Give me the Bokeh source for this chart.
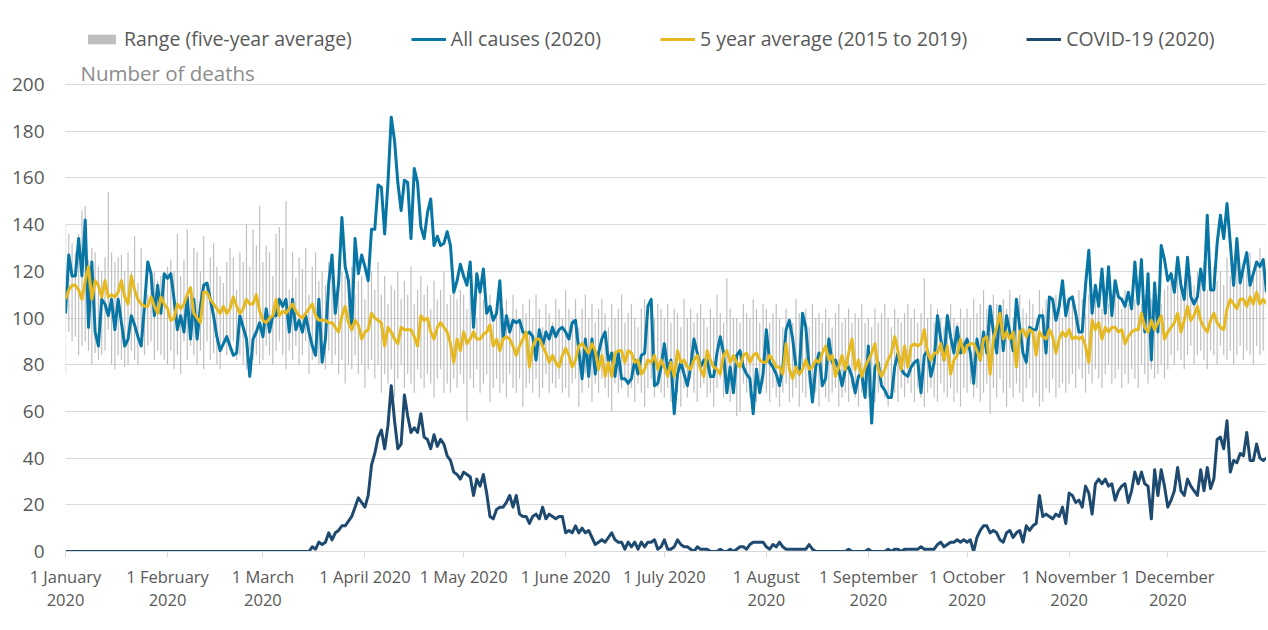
from bokeh.plotting import figure
from bokeh.models import ColumnDataSource, Range1d, FixedTicker, Legend, LegendItem, Label
from bokeh.embed import file_html
from bokeh.resources import INLINE

# ---------------- data (day 0 = 1 January 2020, day 365 = 31 December 2020) ----------------
all_causes_2020 = [
    102, 127, 118, 118, 134, 118, 142, 96, 124, 94, 88, 108, 106, 101, 108, 95, 108, 98, 88, 91,
    101, 97, 92, 88, 105, 124, 119, 101, 114, 102, 119, 117, 119, 108, 95,
    101, 94, 109, 91, 108, 91, 105, 114, 115, 108, 101, 92, 86, 89, 92, 88, 84, 85, 101, 96,
    91, 75, 91, 94, 98, 92, 104, 94, 101, 101, 108, 105, 108, 94, 108, 95,
    99, 94, 101, 94, 88, 84, 108, 81, 91, 115, 127, 102, 115, 143, 122, 116, 95, 134, 119, 127,
    122, 116, 138, 138, 157, 156, 136, 158, 186, 176, 158, 146, 159, 158, 134, 164, 158, 139, 134,
    145, 151, 131, 135, 131, 132, 137, 131, 111, 116, 123, 118, 114, 124, 96, 119, 111, 121, 102, 105,
    99, 102, 116, 91, 101, 94, 99, 98, 99, 94, 93, 94, 92, 82,
    95, 88, 94, 91, 96, 92, 95, 96, 94, 91, 98, 99, 86, 74, 91, 75, 91, 76, 85, 91,
    94, 81, 85, 75, 85, 74, 74, 72, 74, 82, 76, 84, 85, 105, 108, 71, 72,
    79, 89, 78, 82, 59, 76, 81, 76, 71, 79, 91, 85, 79, 82, 82, 75, 75, 85, 92, 85,
    68, 79, 68, 84, 86, 79, 76, 74, 59, 78, 68, 76, 95, 81, 79, 76,
    71, 79, 95, 99, 91, 79, 76, 102, 96, 79, 64, 79, 85, 71, 74, 91, 81, 82, 78, 71,
    78, 79, 75, 68, 75, 76, 66, 88, 55, 79, 81, 71, 69, 66, 66, 79, 85,
    78, 76, 75, 79, 81, 82, 68, 84, 86, 75, 81, 101, 91, 82, 101, 92, 85, 96, 85, 88,
    91, 85, 72, 91, 82, 94, 85, 105, 94, 85, 105, 86, 101, 94, 86, 108, 96,
    85, 81, 96, 95, 95, 101, 101, 85, 109, 108, 99, 105, 116, 101, 108, 109, 102, 94, 94, 114,
    129, 102, 114, 105, 121, 102, 122, 101, 116, 109, 108, 105, 111, 104, 124, 106,
    125, 94, 119, 82, 115, 94, 131, 125, 116, 119, 111, 126, 114, 108, 126, 109, 106, 109, 121, 112,
    144, 112, 112, 132, 144, 134, 149, 132, 114, 134, 115, 122, 128, 114, 119, 124, 122, 125, 111,
]

five_year_average = [
    108, 112, 114, 114, 112, 108, 116, 122, 108, 116, 114, 109, 116, 109, 110, 109, 111, 116, 109, 106,
    118, 112, 108, 106, 105, 105, 109, 105, 102, 109, 106, 104, 99, 100, 106,
    104, 106, 110, 113, 102, 100, 98, 111, 111, 108, 106, 104, 102, 105, 102, 104, 109, 105, 102, 104,
    108, 106, 106, 110, 103, 99, 98, 100, 101, 108, 101, 103, 102, 104, 106, 103,
    101, 100, 102, 104, 106, 101, 99, 99, 99, 98, 98, 96, 94, 101, 105, 98, 95, 99, 97, 91,
    94, 95, 102, 100, 99, 98, 88, 96, 94, 91, 89, 96, 95, 95, 95, 92, 88, 101, 99,
    100, 94, 91, 96, 98, 96, 94, 89, 81, 91, 86, 94, 89, 91, 94, 91, 91, 93, 94, 97,
    88, 91, 86, 91, 92, 91, 88, 84, 88, 91, 94, 79, 88, 91,
    91, 88, 85, 81, 84, 81, 79, 84, 87, 84, 79, 82, 88, 89, 87, 85, 89, 86, 78, 84,
    75, 81, 75, 85, 86, 86, 81, 86, 85, 81, 82, 76, 78, 82, 81, 84, 78,
    82, 79, 75, 81, 75, 86, 81, 82, 79, 78, 82, 84, 78, 75, 86, 82, 79, 78, 76, 84,
    86, 81, 84, 81, 79, 84, 85, 81, 84, 85, 82, 81, 81, 84, 82, 79,
    79, 76, 89, 78, 74, 79, 76, 78, 82, 78, 79, 82, 81, 85, 88, 82, 84, 75, 79, 84,
    78, 85, 91, 78, 82, 75, 79, 82, 85, 89, 78, 75, 78, 82, 85, 92, 86,
    78, 88, 79, 88, 89, 88, 89, 95, 85, 82, 85, 85, 89, 82, 88, 76, 82, 84, 91, 85,
    88, 89, 89, 86, 82, 91, 92, 76, 91, 96, 102, 91, 94, 91, 94, 79, 94,
    95, 92, 95, 94, 84, 94, 92, 91, 95, 92, 85, 91, 94, 92, 95, 91, 92, 91, 92, 88,
    81, 99, 95, 98, 91, 96, 94, 96, 96, 94, 95, 89, 92, 94, 95, 95,
    102, 96, 94, 99, 95, 98, 101, 91, 94, 96, 98, 102, 94, 99, 105, 99, 101, 105, 99, 96,
    94, 99, 102, 98, 96, 95, 104, 108, 106, 104, 108, 108, 105, 109, 106, 111, 106, 108, 106,
]

covid_2020 = (
    [0] * 74 + [
        0, 2, 1, 4, 3, 4, 8, 5, 8, 9, 11, 11, 13, 15, 19, 23, 21, 19, 24, 37,
        42, 49, 52, 44, 54, 71, 56, 44, 46, 67, 58, 51, 53, 51, 59, 49,
        48, 44, 50, 45, 48, 46, 41, 39, 34, 33, 31, 34, 33, 32, 24, 31, 28, 33, 25, 15,
        14, 18, 19, 19, 21, 24, 19, 24, 16, 15, 15, 12, 15, 16,
        14, 19, 14, 16, 15, 14, 15, 15, 8, 9, 8, 11, 8, 10, 8, 9, 6, 3, 4, 5,
        4, 6, 8, 5, 4, 4, 1, 4, 2, 4, 1, 4, 2, 4, 4, 5, 1,
        2, 5, 1, 1, 2, 5, 3, 2, 2, 1, 0, 2, 1, 1, 1, 0, 0, 0, 1, 0,
        0, 1, 0, 1, 2, 2, 1, 3, 4, 4, 4, 4, 2, 1, 3, 2,
        4, 2, 1, 1, 1, 1, 1, 1, 1, 3, 1, 0, 0, 0, 0, 0, 0, 0, 0, 0,
        0, 1, 0, 0, 0, 0, 0, 1, 0, 0, 0, 0, 0, 1, 0, 1, 1,
        0, 1, 1, 1, 1, 1, 2, 1, 1, 1, 1, 3, 4, 2, 3, 4, 4, 5, 4, 5,
        4, 5, 0, 6, 9, 11, 11, 8, 9, 8, 5, 4, 8, 9, 6, 8,
        9, 4, 11, 9, 11, 12, 24, 15, 16, 15, 14, 16, 15, 19, 12, 25, 24, 21, 22, 19,
        28, 25, 16, 29, 31, 29, 31, 28, 29, 22, 26, 28, 29, 21, 26, 34, 29,
        34, 29, 28, 14, 35, 24, 35, 28, 19, 22, 26, 36, 26, 24, 31, 28, 26, 24, 35, 26,
        36, 27, 31, 48, 49, 44, 56, 34, 39, 38, 42, 41, 51, 39, 39, 46, 40, 39, 40,
    ]
)

# five-year range (minimum and maximum), month by month
range_high_jan = [140, 136, 132, 128, 136, 146, 148, 125, 130, 128, 122, 120, 126, 154, 128, 124, 126, 127, 120, 128, 120, 135, 115, 130, 112, 110, 118, 120, 116, 118, 115]
range_low_jan = [76, 94, 90, 92, 84, 88, 90, 86, 80, 85, 82, 84, 86, 95, 80, 78, 84, 82, 79, 80, 86, 82, 80, 88, 84, 88, 90, 82, 86, 84, 82]
range_high_feb = [122, 125, 120, 136, 118, 125, 138, 110, 130, 128, 120, 135, 114, 126, 132, 122, 118, 115, 124, 130, 126, 112, 128, 124, 140, 122, 138, 131, 148]
range_low_feb = [80, 86, 78, 84, 76, 90, 82, 88, 84, 80, 86, 78, 90, 82, 85, 80, 78, 88, 84, 86, 90, 82, 84, 80, 78, 86, 82, 84, 80]
range_high_mar = [124, 131, 128, 118, 136, 139, 130, 150, 112, 128, 117, 126, 121, 130, 110, 122, 128, 116, 120, 114, 124, 118, 112, 126, 120, 118, 115, 122, 110, 116, 118]
range_low_mar = [82, 88, 84, 80, 86, 90, 84, 78, 86, 82, 88, 80, 84, 90, 76, 82, 86, 80, 84, 78, 86, 80, 84, 76, 82, 72, 80, 78, 84, 76, 80]
range_high_apr = [108, 116, 120, 112, 124, 110, 118, 106, 114, 112, 120, 108, 116, 110, 122, 106, 112, 118, 110, 114, 104, 116, 108, 112, 120, 106, 110, 114, 108, 112]
range_low_apr = [70, 78, 82, 74, 80, 68, 76, 72, 78, 66, 74, 80, 70, 76, 72, 68, 78, 74, 70, 76, 72, 66, 74, 78, 68, 72, 68, 74, 70, 76]
range_high_may = [110, 104, 112, 106, 100, 114, 108, 102, 110, 98, 106, 112, 104, 108, 100, 110, 104, 98, 106, 102, 108, 100, 110, 104, 96, 106, 102, 98, 108, 104, 100]
range_low_may = [72, 56, 74, 70, 78, 68, 72, 76, 64, 70, 74, 68, 72, 66, 76, 70, 68, 74, 62, 70, 72, 68, 74, 66, 70, 76, 68, 72, 70, 74, 68]
range_high_jun = [112, 104, 100, 108, 96, 104, 110, 100, 106, 98, 104, 108, 102, 96, 106, 100, 104, 110, 98, 102, 106, 100, 96, 104, 108, 98, 102, 100, 106, 104]
range_low_jun = [70, 66, 72, 74, 62, 68, 76, 70, 64, 72, 68, 74, 70, 66, 60, 72, 68, 70, 74, 66, 70, 64, 72, 68, 62, 70, 74, 66, 70, 68]
range_high_jul = [100, 106, 98, 104, 102, 96, 108, 100, 104, 98, 102, 106, 100, 96, 104, 100, 110, 102, 98, 117, 104, 100, 100, 98, 106, 102, 100, 108, 104, 98, 106]
range_low_jul = [66, 70, 64, 72, 68, 62, 70, 66, 74, 68, 64, 70, 72, 66, 68, 62, 70, 74, 66, 68, 64, 70, 58, 60, 72, 68, 66, 70, 64, 68, 72]
range_high_aug = [104, 98, 102, 106, 100, 96, 104, 100, 98, 108, 102, 100, 104, 96, 106, 100, 102, 98, 104, 100, 96, 102, 106, 98, 100, 104, 98, 102, 100, 106, 98]
range_low_aug = [68, 64, 70, 66, 62, 68, 72, 64, 66, 70, 62, 68, 66, 72, 64, 68, 62, 70, 66, 64, 68, 70, 62, 66, 68, 64, 70, 66, 62, 68, 70]
range_high_sep = [100, 96, 104, 98, 102, 106, 100, 96, 104, 100, 98, 102, 106, 100, 104, 98, 102, 117, 100, 106, 98, 104, 100, 96, 102, 106, 100, 98, 104, 100]
range_low_sep = [66, 70, 64, 68, 72, 66, 62, 70, 68, 64, 70, 66, 72, 68, 64, 70, 66, 62, 68, 70, 66, 64, 72, 68, 66, 70, 64, 68, 62, 70]
range_high_oct = [104, 100, 108, 102, 106, 112, 104, 100, 110, 106, 102, 108, 104, 112, 100, 106, 110, 104, 102, 108, 106, 100, 112, 104, 108, 102, 106, 110, 104, 100, 108]
range_low_oct = [68, 72, 66, 70, 64, 68, 72, 59, 70, 66, 74, 68, 62, 70, 66, 72, 68, 64, 70, 74, 66, 68, 62, 64, 70, 68, 74, 66, 70, 72, 68]
range_high_nov = [106, 110, 104, 112, 108, 102, 110, 106, 114, 108, 104, 112, 106, 110, 116, 108, 104, 112, 106, 110, 108, 114, 106, 110, 112, 108, 116, 110, 106, 112]
range_low_nov = [72, 76, 70, 78, 74, 68, 76, 72, 78, 74, 70, 76, 80, 72, 74, 78, 70, 76, 72, 78, 74, 70, 80, 76, 72, 78, 74, 76, 80, 74]
range_high_dec = [114, 118, 112, 120, 116, 110, 122, 118, 114, 120, 116, 124, 112, 118, 122, 116, 120, 114, 126, 118, 122, 130, 116, 124, 120, 128, 118, 124, 130, 122, 136]
range_low_dec = [78, 84, 80, 86, 82, 78, 84, 88, 80, 84, 86, 82, 78, 86, 84, 80, 88, 84, 82, 86, 80, 84, 88, 82, 86, 84, 80, 88, 84, 86, 82]

month_start_days = [0, 31, 60, 91, 121, 152, 182, 213, 244, 274, 305, 335]
month_labels = ["1 January\n2020", "1 February\n2020", "1 March\n2020", "1 April 2020",
                "1 May 2020", "1 June 2020", "1 July 2020", "1 August\n2020",
                "1 September\n2020", "1 October\n2020", "1 November\n2020", "1 December\n2020"]
y_ticks = [0, 20, 40, 60, 80, 100, 120, 140, 160, 180, 200]

range_high = (range_high_jan + range_high_feb + range_high_mar + range_high_apr + range_high_may +
              range_high_jun + range_high_jul + range_high_aug + range_high_sep + range_high_oct +
              range_high_nov + range_high_dec)
range_low = (range_low_jan + range_low_feb + range_low_mar + range_low_apr + range_low_may +
             range_low_jun + range_low_jul + range_low_aug + range_low_sep + range_low_oct +
             range_low_nov + range_low_dec)

days = list(range(366))
for name, arr in [("all", all_causes_2020), ("avg", five_year_average), ("covid", covid_2020),
                  ("hi", range_high), ("lo", range_low)]:
    assert len(arr) == 366, (name, len(arr))

src = ColumnDataSource(dict(day=days, all=all_causes_2020, avg=five_year_average,
                            covid=covid_2020, hi=range_high, lo=range_low))

# ---------------- styling ----------------
FONT = "Open Sans"
TXT = "#595959"
GRID = "#D9D9D9"
C_RANGE = "#BFBFBF"
C_ALL = "#0876A5"
C_AVG = "#E6B920"
C_COVID = "#1F4A70"

W, H = 1266, 626
FRAME_BOTTOM = 551            # pixel row of the zero line
p = figure(width=W, height=H, output_backend="svg", toolbar_location=None,
           x_range=Range1d(0, 365), y_range=Range1d(0, 200 * FRAME_BOTTOM / (FRAME_BOTTOM - 84)),
           min_border_left=65, min_border_right=0, min_border_top=0,
           min_border_bottom=H - FRAME_BOTTOM)
p.outline_line_color = None
p.background_fill_color = "white"

r_range = p.vbar(x="day", bottom="lo", top="hi", width=0.36, source=src,
                 fill_color=C_RANGE, line_color=None)
r_all = p.line("day", "all", source=src, line_color=C_ALL, line_width=3, line_join="round")
r_avg = p.line("day", "avg", source=src, line_color=C_AVG, line_width=3, line_join="round")
r_cov = p.line("day", "covid", source=src, line_color=C_COVID, line_width=3, line_join="round")

# axes
p.xgrid.visible = False
p.ygrid.grid_line_color = GRID
p.ygrid.grid_line_width = 1
p.yaxis.ticker = FixedTicker(ticks=y_ticks)
p.yaxis.axis_line_color = None
p.yaxis.major_tick_line_color = None
p.yaxis.minor_tick_line_color = None
p.yaxis.major_tick_out = 0
p.yaxis.major_tick_in = 0
p.yaxis.major_label_standoff = 21
p.yaxis.major_label_text_font = FONT
p.yaxis.major_label_text_font_size = "19px"
p.yaxis.major_label_text_color = TXT

p.xaxis.ticker = FixedTicker(ticks=month_start_days)
p.xaxis.major_label_overrides = {d: lbl for d, lbl in zip(month_start_days, month_labels)}
p.xaxis.axis_line_color = GRID
p.xaxis.major_tick_line_color = GRID
p.xaxis.minor_tick_line_color = None
p.xaxis.major_tick_out = 6
p.xaxis.major_tick_in = 0
p.xaxis.major_label_standoff = 7
p.xaxis.major_label_text_font = FONT
p.xaxis.major_label_text_font_size = "16.5px"
p.xaxis.major_label_text_line_height = 1.02
p.xaxis.major_label_text_color = TXT

# axis title (horizontal, top-left)
p.add_layout(Label(x=15, y=479, x_units="screen", y_units="screen", text="Number of deaths",
                   text_font=FONT, text_font_size="20.5px", text_color="#8C8C8C",
                   text_baseline="middle"))

legend = Legend(items=[
    LegendItem(label="Range (five-year average)", renderers=[r_range]),
    LegendItem(label="All causes (2020)", renderers=[r_all]),
    LegendItem(label="5 year average (2015 to 2019)", renderers=[r_avg]),
    LegendItem(label="COVID-19 (2020)", renderers=[r_cov]),
], orientation="horizontal", location=(19, 499), spacing=59, glyph_width=35,
    glyph_height=12, label_standoff=5, padding=0, margin=0,
    background_fill_alpha=0, border_line_color=None,
    label_text_font=FONT, label_text_font_size="19.5px", label_text_color=TXT)
p.add_layout(legend)

open("out.html", "w").write(file_html(p, INLINE))
